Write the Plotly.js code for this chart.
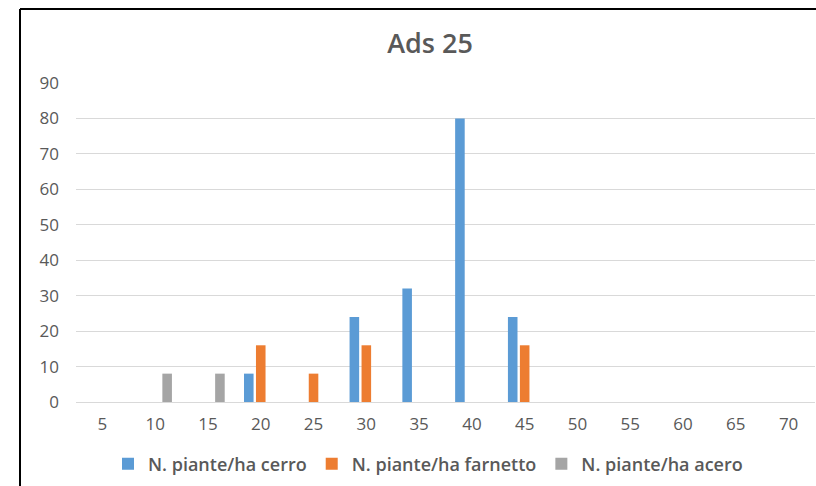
<!DOCTYPE html>
<html>
<head>
<meta charset="utf-8">
<script src="https://cdn.plot.ly/plotly-3.0.1.min.js"></script>
<style>
html,body{margin:0;padding:0;background:#fff;}
#chart{width:816px;height:486px;}
</style>
</head>
<body>
<div id="chart"></div>
<script>
const categories = ["5","10","15","20","25","30","35","40","45","50","55","60","65","70"];
const cerro    = [null,null,null,8,null,24,32,80,24,null,null,null,null,null];
const farnetto = [null,null,null,16,8,16,null,null,16,null,null,null,null,null];
const acero    = [null,8,8,null,null,null,null,null,null,null,null,null,null,null];
const seriesNames = ["N. piante/ha cerro","N. piante/ha farnetto","N. piante/ha acero"];
const colors = ["#5B9BD5","#ED7D31","#A5A5A5"];
const yTicks = [0,10,20,30,40,50,60,70,80,90];

const W = 816, H = 486;
const L = 76, R = 1, T = 83, B = 84;
const pw = W - L - R, ph = H - T - B;
const px = x => (x - L) / pw;
const py = y => (H - B - y) / ph;

const data = [cerro, farnetto, acero].map((v, i) => ({
  type: 'bar', x: categories, y: v, name: seriesNames[i],
  marker: {color: colors[i]}, hoverinfo: 'skip'
}));

const layout = {
  width: W, height: H,
  margin: {l: L, r: R, t: T, b: B, pad: 0},
  paper_bgcolor: '#fff', plot_bgcolor: '#fff',
  font: {family: 'Open Sans, sans-serif', color: '#595959'},
  title: {text: 'Ads 25', x: 430 / W, xref: 'container', xanchor: 'center',
          y: 1 - 44 / H, yref: 'container', yanchor: 'middle',
          font: {size: 27, color: '#595959', weight: 600}},
  barmode: 'group', bargap: 0.32, bargroupgap: 0.2,
  xaxis: {type: 'category', showgrid: false, zeroline: false, showline: false,
          ticks: '', tickfont: {size: 17, color: '#595959'}, ticklabelstandoff: 10},
  yaxis: {range: [0, 90], tickvals: yTicks, showgrid: true, gridcolor: '#D9D9D9', gridwidth: 1,
          zeroline: true, zerolinecolor: '#D9D9D9', zerolinewidth: 1, showline: false,
          ticks: '', tickfont: {size: 17, color: '#595959'}, ticklabelstandoff: 16},
  legend: {orientation: 'h', x: 428 / W, xref: 'container', xanchor: 'center',
           y: 1 - 464 / H, yref: 'container', yanchor: 'middle',
           font: {size: 18, color: '#595959', weight: 600}, traceorder: 'normal',
           itemwidth: 30},
  shapes: [
    {type: 'line', xref: 'paper', yref: 'paper', x0: px(20), x1: px(20), y0: py(9), y1: py(490),
     line: {color: '#000', width: 2}},
    {type: 'line', xref: 'paper', yref: 'paper', x0: px(20), x1: px(820), y0: py(9), y1: py(9),
     line: {color: '#000', width: 2}}
  ],
  showlegend: true
};

Plotly.newPlot('chart', data, layout, {displayModeBar: false, staticPlot: true});
</script>
</body>
</html>
